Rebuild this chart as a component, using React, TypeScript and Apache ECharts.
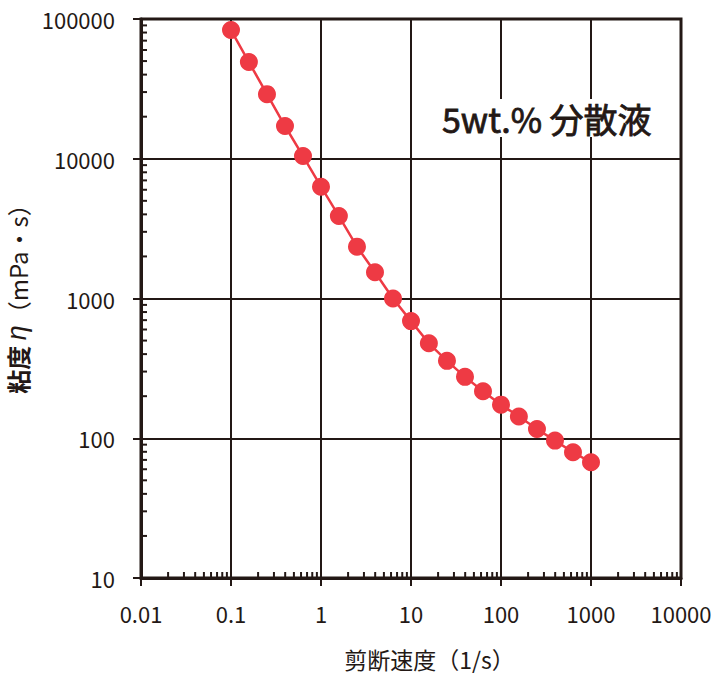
import React, { useEffect, useRef } from "react";
import * as echarts from "echarts";

// Shear rate (1/s)
const shearRate = [
  0.1, 0.158, 0.251, 0.398, 0.631, 1, 1.58, 2.51, 3.98, 6.31, 10, 15.8, 25.1,
  39.8, 63.1, 100, 158, 251, 398, 631, 1000,
];
// Viscosity (mPa·s)
const viscosity = [
  83400, 49200, 29000, 17150, 10460, 6310, 3890, 2350, 1540, 1000, 689, 478,
  358, 275, 217, 174, 143, 116.5, 96.2, 79.4, 67.3,
];
const xTickLabels = ["0.01", "0.1", "1", "10", "100", "1000", "10000"];
const yTickLabels = ["10", "100", "1000", "10000", "100000"];
const minorMultipliers = [2, 3, 4, 5, 6, 7, 8, 9];

const INK = "#231815";
const RED = "#ee3a44";
const FONT = "'Noto Sans CJK JP', 'Noto Sans', sans-serif";

function nearestLabel(v: number, labels: string[]) {
  let best = labels[0];
  let bd = Infinity;
  for (const l of labels) {
    const d = Math.abs(Math.log10(Number(l)) - Math.log10(v));
    if (d < bd) {
      bd = d;
      best = l;
    }
  }
  return best;
}

export default function App() {
  const ref = useRef<HTMLDivElement>(null);
  useEffect(() => {
    if (!ref.current) return;
    const chart = echarts.init(ref.current, null, { renderer: "svg" });
    const xMin = Number(xTickLabels[0]);
    const xMax = Number(xTickLabels[xTickLabels.length - 1]);
    const yMin = Number(yTickLabels[0]);
    const yMax = Number(yTickLabels[yTickLabels.length - 1]);

    const xMinor: number[][] = [];
    for (let i = 0; i < xTickLabels.length - 1; i++) {
      const base = Number(xTickLabels[i]);
      for (const m of minorMultipliers) xMinor.push([base * m, yMin]);
    }
    const yMinor: number[][] = [];
    for (let i = 0; i < yTickLabels.length - 1; i++) {
      const base = Number(yTickLabels[i]);
      for (const m of minorMultipliers) yMinor.push([xMin, base * m]);
    }

    const option: any = {
      animation: false,
      backgroundColor: "#ffffff",
      textStyle: { fontFamily: FONT },
      grid: {
        left: 141,
        right: 46,
        top: 19,
        bottom: 99,
        containLabel: false,
        outerBoundsMode: "none",
        show: true,
        borderColor: INK,
        borderWidth: 3,
        backgroundColor: "transparent",
      },
      xAxis: {
        type: "log",
        logBase: 10,
        min: xMin,
        max: xMax,
        axisLine: { show: true, lineStyle: { color: INK, width: 3 } },
        axisTick: { show: true, length: 8, lineStyle: { color: INK, width: 2 } },
        axisLabel: {
          color: INK,
          fontSize: 22,
          margin: 24,
          fontFamily: FONT,
          formatter: (v: number) => nearestLabel(v, xTickLabels),
        },
        splitLine: { show: true, lineStyle: { color: INK, width: 2 } },
        name: "剪断速度（1/s）",
        nameLocation: "middle",
        nameGap: 69,
        nameTextStyle: {
          color: INK,
          fontSize: 23,
          lineHeight: 23,
          fontFamily: FONT,
          padding: [0, 0, 0, 37],
        },
      },
      yAxis: {
        type: "log",
        logBase: 10,
        min: yMin,
        max: yMax,
        axisLine: { show: true, lineStyle: { color: INK, width: 3 } },
        axisTick: { show: true, length: 8, lineStyle: { color: INK, width: 2 } },
        axisLabel: {
          color: INK,
          fontSize: 22,
          margin: 26,
          fontFamily: FONT,
          formatter: (v: number) => nearestLabel(v, yTickLabels),
        },
        splitLine: { show: true, lineStyle: { color: INK, width: 2 } },
        name: "{b|粘度} {i|η}（mPa・s）",
        nameLocation: "middle",
        nameRotate: 90,
        nameGap: 102,
        nameTextStyle: {
          color: INK,
          fontSize: 24,
          fontFamily: FONT,
          padding: [0, 0, 0, 11],
          rich: {
            b: { fontSize: 24, fontWeight: "bold", color: INK, fontFamily: FONT },
            i: {
              fontSize: 27,
              fontStyle: "italic",
              color: INK,
              fontFamily: "'Liberation Sans', sans-serif",
            },
          },
        },
      },
      graphic: [
        {
          type: "text",
          z: 100,
          left: 428,
          top: 99,
          style: {
            text: "5wt.% 分散液",
            fill: INK,
            font: `normal 34px ${FONT}`,
            stroke: INK,
            lineWidth: 0.8,
            backgroundColor: "#ffffff",
            padding: [2, 14, 2, 14],
          },
        },
      ],
      series: [
        {
          type: "custom",
          silent: true,
          clip: false,
          z: 3,
          data: xMinor,
          renderItem: (params: any, api: any) => {
            const p = api.coord([api.value(0), api.value(1)]);
            return {
              type: "line",
              shape: { x1: p[0], y1: p[1], x2: p[0], y2: p[1] - 6 },
              style: { stroke: INK, lineWidth: 2 },
            };
          },
        },
        {
          type: "custom",
          silent: true,
          clip: false,
          z: 3,
          data: yMinor,
          renderItem: (params: any, api: any) => {
            const p = api.coord([api.value(0), api.value(1)]);
            return {
              type: "line",
              shape: { x1: p[0], y1: p[1], x2: p[0] + 6, y2: p[1] },
              style: { stroke: INK, lineWidth: 2 },
            };
          },
        },
        {
          type: "line",
          z: 5,
          data: shearRate.map((x, i) => [x, viscosity[i]]),
          symbol: "circle",
          symbolSize: 18,
          itemStyle: { color: RED },
          lineStyle: { color: RED, width: 2.5 },
        },
      ],
    };
    chart.setOption(option);
    return () => chart.dispose();
  }, []);
  return (
    <div
      ref={ref}
      style={{ position: "absolute", left: 0, top: 0, width: 727, height: 677 }}
    />
  );
}
